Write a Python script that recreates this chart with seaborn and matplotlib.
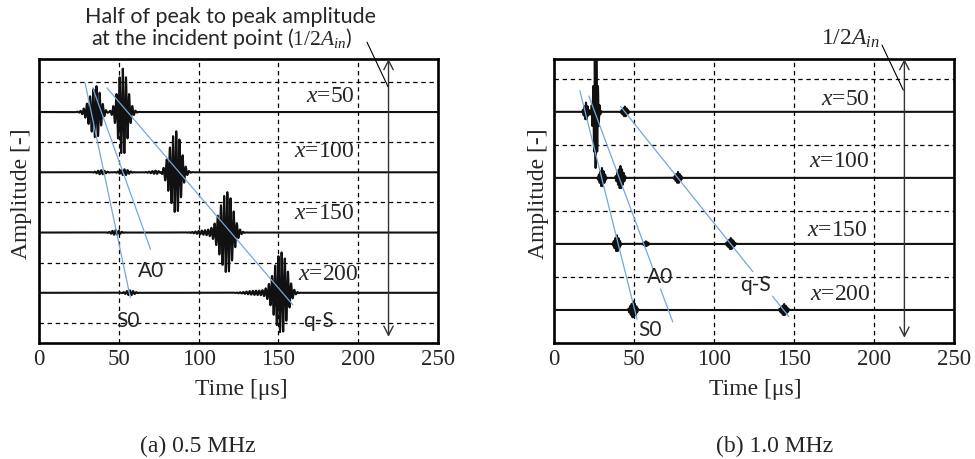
import numpy as np
import pandas as pd
import matplotlib
matplotlib.use("Agg")
import matplotlib.pyplot as plt
import seaborn as sns

# ------------------------------------------------------------------ data
distances = [50, 100, 150, 200]              # propagation distance of each trace
time_ticks = [0, 50, 100, 150, 200, 250]     # time axis ticks [us]
trace_labels = ["50", "100", "150", "200"]

# wave packets:
# (distance, centre [us], amplitude, rise [us], fall [us], envelope shape)
packets_05 = [
    (50, 36.0, 0.43, 4.0, 2.6, "g"),
    (50, 52.5, 0.72, 3.0, 3.0, "g"),
    (100, 39.0, 0.035, 2.5, 2.5, "g"),
    (100, 53.5, 0.05, 2.5, 2.5, "g"),
    (100, 75.0, 0.035, 4.0, 3.0, "g"),
    (100, 86.0, 0.68, 4.0, 3.0, "g"),
    (150, 48.0, 0.04, 2.5, 2.5, "g"),
    (150, 104.0, 0.035, 5.0, 4.0, "g"),
    (150, 118.0, 0.67, 4.5, 3.5, "g"),
    (200, 57.0, 0.04, 2.5, 2.5, "g"),
    (200, 136.0, 0.035, 6.0, 5.0, "g"),
    (200, 152.0, 0.67, 4.5, 3.5, "g"),
]
packets_10 = [
    (50, 20.0, 0.14, 2.5, 2.5, "t"),
    (50, 26.0, -0.85, 1.2, 1.2, "g"),
    (50, 44.3, 0.08, 3.0, 3.0, "t"),
    (100, 30.0, 0.15, 3.0, 3.0, "t"),
    (100, 41.5, 0.18, 3.5, 3.5, "t"),
    (100, 77.5, 0.09, 3.0, 3.0, "t"),
    (150, 39.3, 0.13, 3.0, 3.0, "t"),
    (150, 57.5, 0.04, 2.5, 2.5, "t"),
    (150, 110.5, 0.09, 3.5, 3.5, "t"),
    (200, 49.5, 0.13, 3.5, 3.5, "t"),
    (200, 143.8, 0.09, 3.5, 3.5, "t"),
]

# mode arrival times [us] at each distance (blue guide lines)
modes = ["S0", "A0", "q-S"]
arrival_05 = {"S0": [32.7, 40.7, 48.6, 56.6],
              "A0": [39.0, 52.8, 66.0, 79.7],
              "q-S": [55.5, 88.0, 120.0, 152.7]}
arrival_10 = {"S0": [19.5, 29.8, 40.0, 50.5],
              "A0": [25.6, 40.6, 56.0, 71.6],
              "q-S": [44.4, 77.4, 110.0, 143.7]}
# distance spans over which each guide line is drawn
span_05 = {"S0": [(26, 204)], "A0": [(30, 164)], "q-S": [(30, 210)]}
span_10 = {"S0": [(34, 207)], "A0": [(38, 169), (184, 209)],
           "q-S": [(46, 171), (189.5, 205)]}

freq_05 = 0.5   # MHz
freq_10 = 1.0   # MHz

# ------------------------------------------------------------------ style
sns.set_theme(style="white")
plt.rcParams["font.family"] = ["Liberation Serif", "DejaVu Serif"]
plt.rcParams["mathtext.fontset"] = "custom"
plt.rcParams["mathtext.rm"] = "Liberation Serif"
plt.rcParams["mathtext.it"] = "Liberation Serif:italic"
SANS = ["Lato", "DejaVu Sans"]
BLUE = "#74a7dc"

W, H = 975, 459
fig = plt.figure(figsize=(W / 100, H / 100), dpi=100)


def px_axes(left, right, top, bottom):
    return fig.add_axes([left / W, 1 - bottom / H, (right - left) / W, (bottom - top) / H])


ax1 = px_axes(39, 438, 59, 343)
ax2 = px_axes(554, 954, 59, 343)


def offset(d):
    return (250 - d) / 50.0


def traces(packets, freq):
    t = np.arange(0, 250.0001, 0.05)
    frames = []
    for d in distances:
        s = np.zeros_like(t)
        for (pd_, c, a, r, f, shape) in packets:
            if pd_ != d:
                continue
            dt = t - c
            w = np.where(dt < 0, r, f)
            if shape == "g":
                env = np.exp(-0.5 * (dt / w) ** 2)
            else:
                env = np.clip(1 - np.abs(dt) / w, 0, 1)
            s += a * env * np.cos(2 * np.pi * freq * dt)
        frames.append(pd.DataFrame({"t": t, "y": offset(d) + s, "d": d}))
    return pd.concat(frames, ignore_index=True)


def guides(arrival, span):
    rows = []
    k = 0
    for m in modes:
        b, a0 = np.polyfit(distances, arrival[m], 1)
        for (d0, d1) in span[m]:
            for dd in (d0, d1):
                rows.append({"t": a0 + b * dd, "y": offset(dd), "seg": k})
            k += 1
    return pd.DataFrame(rows)


def draw(ax, packets, freq, arrival, span, ylim):
    df = traces(packets, freq)
    sns.lineplot(data=df, x="t", y="y", units="d", estimator=None, sort=False,
                 color="#111111", lw=1.5, ax=ax, zorder=3)
    g = guides(arrival, span)
    sns.lineplot(data=g, x="t", y="y", units="seg", estimator=None, sort=False,
                 color=BLUE, lw=0.9, ax=ax, zorder=4)
    ax.set_xlim(0, 250)
    ax.set_ylim(*ylim)
    ax.set_xticks(time_ticks)
    ax.set_xticklabels([str(v) for v in time_ticks])
    ax.set_yticks([0.5, 1.5, 2.5, 3.5, 4.5])
    ax.tick_params(axis="y", length=0, labelleft=False)
    ax.tick_params(axis="x", length=0, pad=4.5, labelsize=16.5)
    ax.grid(True, color="black", lw=0.9, ls=(0, (3.5, 3)))
    for sp in ax.spines.values():
        sp.set_visible(True)
        sp.set_color("black")
        sp.set_linewidth(1.9)
    ax.set_xlabel("Time [\u03bcs]", fontsize=17)
    ax.xaxis.label.set_va("baseline")
    ax.set_ylabel("Amplitude [-]", fontsize=17)
    ax.yaxis.label.set_va("baseline")


draw(ax1, packets_05, freq_05, arrival_05, span_05, (0.167, 4.88))
draw(ax2, packets_10, freq_10, arrival_10, span_10, (0.52, 4.80))

ax1.xaxis.set_label_coords(0.506, -(395 - 343) / 284)
ax2.xaxis.set_label_coords(0.503, -(395 - 343) / 284)
ax1.yaxis.set_label_coords((27 - 39) / 399, 0.525)
ax2.yaxis.set_label_coords((544 - 554) / 400, 0.525)

# distance labels
lab_pos_05 = [(198, 4.17), (198, 3.25), (198, 2.23), (200.5, 1.22)]
lab_pos_10 = [(197.5, 4.11), (197.5, 3.17), (196, 2.12), (198, 1.15)]
for ax, pos in ((ax1, lab_pos_05), (ax2, lab_pos_10)):
    for lab, (xx, yy) in zip(trace_labels, pos):
        ax.text(xx, yy, "$x$=" + lab, ha="right", va="baseline", fontsize=17, zorder=6)

# mode labels
mode_pos_05 = {"A0": (70.2, 1.27), "S0": (55.8, 0.43), "q-S": (175.4, 0.43)}
mode_pos_10 = {"A0": (66.6, 1.41), "S0": (60.0, 0.61), "q-S": (126.0, 1.29)}
for ax, pos in ((ax1, mode_pos_05), (ax2, mode_pos_10)):
    for m in modes:
        xx, yy = pos[m]
        ax.text(xx, yy, m, ha="center", va="baseline", fontsize=15,
                family=SANS, zorder=6)

# amplitude arrows and leader lines
for ax, (y0, y1), (lx0, ly0, lx1, ly1) in (
        (ax1, (0.27, 4.88), (205.5, 5.16, 218.7, 4.42)),
        (ax2, (0.58, 4.80), (205.0, 5.01, 218.3, 4.33))):
    ax.annotate("", xy=(219, y1), xytext=(219, y0), annotation_clip=False,
                arrowprops=dict(arrowstyle="<->,head_length=0.55,head_width=0.28",
                                lw=1.0, color="#333333", shrinkA=0, shrinkB=0,
                                mutation_scale=12))
    ax.annotate("", xy=(lx1, ly1), xytext=(lx0, ly0), annotation_clip=False,
                arrowprops=dict(arrowstyle="-", lw=0.8, color="black",
                                shrinkA=0, shrinkB=0))

ax1.text(120.3, 5.48, "Half of peak to peak amplitude", ha="center", va="baseline",
         fontsize=15.5, family=SANS, clip_on=False)
ax1.text(114.4, 5.11, r"at the incident point ($\mathrm{1/2}A_{in}$)", ha="center",
         va="baseline", fontsize=15.5, family=SANS, clip_on=False)
ax2.text(203.8, 5.01, r"$\mathrm{1/2}A_{in}$", ha="right", va="baseline",
         fontsize=17, clip_on=False)

fig.text(198 / W, 1 - 452 / H, "(a) 0.5 MHz", ha="center", va="baseline", fontsize=17)
fig.text(775 / W, 1 - 452 / H, "(b) 1.0 MHz", ha="center", va="baseline", fontsize=17)

fig.savefig("out.png", dpi=100)
